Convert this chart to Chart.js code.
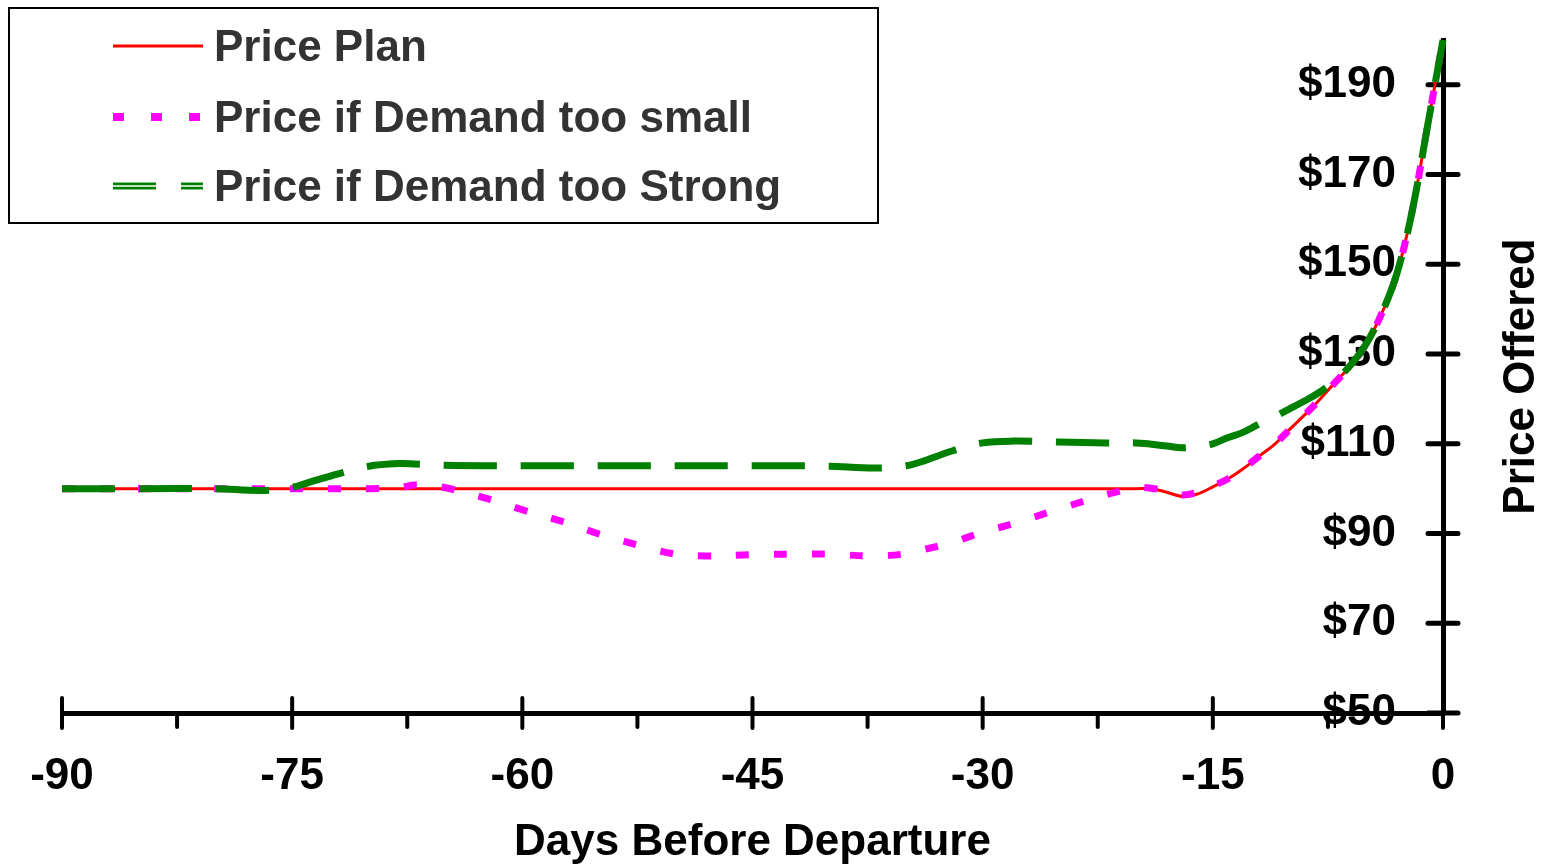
<!DOCTYPE html>
<html>
<head>
<meta charset="utf-8">
<script src="https://cdn.jsdelivr.net/npm/chart.js@4.4.1/dist/chart.umd.min.js"></script>
<style>
  html, body { margin: 0; padding: 0; background: #ffffff; }
  #wrap { width: 1549px; height: 864px; }
</style>
</head>
<body>
<div id="wrap"><canvas id="c" width="1549" height="864"></canvas></div>
<script>
// Days before departure at which each price is given
const days = [-90, -85, -80, -77, -75, -74, -72, -70, -68, -67, -65, -62, -60, -57, -55, -52, -50, -48, -45, -42,
              -40, -37, -35, -34, -32, -30, -28, -25, -22, -20, -19, -18, -17, -16, -15, -14, -13, -12, -11, -10,
              -9, -8, -7, -6, -5, -4, -3, -2, -1, 0];

// Planned fare
const planPrice = [100, 100, 100, 100, 100, 100, 100, 100, 100, 100, 100, 100, 100, 100, 100, 100, 100, 100, 100, 100,
                   100, 100, 100, 100, 100, 100, 100, 100, 100, 100, 100, 99.2, 98.3, 98.8, 100.4, 102.2, 104.5, 107.2, 109.8, 113.2,
                   116.5, 120, 123.8, 127.5, 132.3, 139, 148, 162, 181, 200];

// Fare when bookings come in below plan
const lowDemandPrice = [100, 100, 100, 100, 100, 100, 100, 100, 100.2, 100.8, 100.2, 97.5, 95.3, 92.3, 89.9, 87, 85.4, 85, 85.3, 85.4,
                        85.4, 85, 85.5, 86.3, 88, 90.3, 92.2, 95.5, 98.6, 100.2, 100.1, 99.4, 98.6, 99.2, 100.6, 102.2, 104.5, 107.2, 109.8, 113.2,
                        116.5, 120, 123.8, 127.5, 132.3, 139, 148, 162, 181, 200];

// Fare when bookings come in above plan
const strongDemandPrice = [100, 100, 100, 99.6, 100.3, 101.3, 103.3, 105, 105.6, 105.5, 105.2, 105.1, 105.1, 105.1, 105.1, 105.1, 105.1, 105.1, 105.1, 105.1,
                           105, 104.6, 105.1, 106, 108.4, 110.2, 110.6, 110.4, 110.2, 110.2, 109.9, 109.5, 109.1, 109.4, 110, 111.4, 112.6, 114.4, 116, 117.8,
                           119.6, 121.6, 124.2, 127.6, 132.3, 139, 148, 162, 181, 200];

const seriesLabels = ['Price Plan', 'Price if Demand too small', 'Price if Demand too Strong'];
const xTickValues = [-90, -75, -60, -45, -30, -15, 0];
const xMinorTickValues = [-82.5, -67.5, -52.5, -37.5, -22.5, -7.5];
const yTickValues = [50, 70, 90, 110, 130, 150, 170, 190];
const xTitle = 'Days Before Departure';
const yTitle = 'Price Offered';

const FONT = "'Liberation Sans', Arial, Helvetica, sans-serif";
const bigBold = { family: FONT, size: 44, weight: 'bold' };

const toPoints = vals => days.map((d, i) => ({ x: d, y: vals[i] }));

// Keep the plot area fixed: no extra room reserved for overhanging tick labels
const zeroLabelPadding = s => {
  s.paddingLeft = 0; s.paddingRight = 0; s.paddingTop = 0; s.paddingBottom = 0;
};

// Axis tick marks that cross the axis lines, plus the minor day ticks
const crossTicks = {
  id: 'crossTicks',
  beforeDatasetsDraw(chart) {
    const { ctx, scales: { x, y } } = chart;
    const axisY = y.getPixelForValue(50);
    const axisX = x.getPixelForValue(0);
    ctx.save();
    ctx.strokeStyle = '#000';
    ctx.lineCap = 'round';
    ctx.lineWidth = 4;
    xTickValues.forEach(v => {
      const px = x.getPixelForValue(v);
      ctx.beginPath(); ctx.moveTo(px, axisY - 15); ctx.lineTo(px, axisY + 15); ctx.stroke();
    });
    xMinorTickValues.forEach(v => {
      const px = x.getPixelForValue(v);
      ctx.beginPath(); ctx.moveTo(px, axisY); ctx.lineTo(px, axisY + 14); ctx.stroke();
    });
    ctx.lineWidth = 5;
    yTickValues.forEach(v => {
      const py = y.getPixelForValue(v);
      ctx.beginPath(); ctx.moveTo(axisX - 15, py); ctx.lineTo(axisX + 15, py); ctx.stroke();
    });
    ctx.restore();
  }
};

// Boxed legend in the upper left and the rotated price axis title
const legendBox = {
  id: 'legendBox',
  afterDraw(chart) {
    const { ctx, scales: { y } } = chart;
    ctx.save();
    ctx.fillStyle = '#fff';
    ctx.fillRect(9, 8, 869, 215);
    ctx.strokeStyle = '#000';
    ctx.lineWidth = 2;
    ctx.strokeRect(9, 8, 869, 215);

    const rows = [46, 117, 186];
    const x0 = 113, x1 = 203;
    chart.data.datasets.forEach((ds, i) => {
      const ry = rows[i];
      ctx.save();
      ctx.beginPath();
      ctx.moveTo(x0, ry); ctx.lineTo(x1, ry);
      ctx.strokeStyle = ds.borderColor;
      ctx.lineWidth = i === 0 ? 3 : (i === 1 ? 8 : 7);
      ctx.lineCap = 'butt';
      ctx.setLineDash(i === 0 ? [] : (i === 1 ? [11, 27] : [43, 25]));
      ctx.stroke();
      if (i === 2) {
        ctx.strokeStyle = '#fff';
        ctx.lineWidth = 1.5;
        ctx.stroke();
      }
      ctx.restore();
      ctx.fillStyle = '#333';
      ctx.font = `bold 44px ${FONT}`;
      ctx.textAlign = 'left';
      ctx.textBaseline = 'middle';
      ctx.fillText(ds.label, 214, ry + 3);
    });

    ctx.fillStyle = '#000';
    ctx.font = `bold 44px ${FONT}`;
    ctx.textAlign = 'center';
    ctx.textBaseline = 'middle';
    ctx.translate(1522, (y.top + y.bottom) / 2);
    ctx.rotate(-Math.PI / 2);
    ctx.fillText(yTitle, 0, 0);
    ctx.restore();
  }
};

new Chart(document.getElementById('c'), {
  type: 'line',
  data: {
    datasets: [
      {
        label: seriesLabels[0],
        data: toPoints(planPrice),
        borderColor: '#ff0000',
        borderWidth: 3,
        order: 2
      },
      {
        label: seriesLabels[1],
        data: toPoints(lowDemandPrice),
        borderColor: '#ff00ff',
        borderWidth: 7,
        borderDash: [13, 25],
        borderCapStyle: 'butt',
        order: 1
      },
      {
        label: seriesLabels[2],
        data: toPoints(strongDemandPrice),
        borderColor: '#008000',
        borderWidth: 7,
        borderDash: [53, 24],
        borderCapStyle: 'butt',
        order: 0
      }
    ]
  },
  options: {
    responsive: false,
    devicePixelRatio: 1,
    animation: false,
    layout: { padding: { left: 62, top: 40, right: 0, bottom: 0 } },
    elements: {
      point: { radius: 0, hoverRadius: 0 },
      line: { tension: 0.35, fill: false, borderJoinStyle: 'round' }
    },
    datasets: { line: { clip: 12 } },
    plugins: {
      legend: { display: false },
      tooltip: { enabled: false }
    },
    scales: {
      x: {
        type: 'linear',
        position: 'bottom',
        min: -90,
        max: 0,
        afterBuildTicks: s => { s.ticks = xTickValues.map(v => ({ value: v })); },
        afterFit: s => { s.height = 151; zeroLabelPadding(s); },
        grid: { display: false, drawTicks: false },
        border: { display: true, color: '#000', width: 5 },
        ticks: {
          color: '#000', font: bigBold, padding: 37, maxRotation: 0, autoSkip: false,
          callback: v => String(v)
        },
        title: { display: true, text: xTitle, color: '#000', font: bigBold, padding: { top: 0, bottom: -5 } }
      },
      y: {
        type: 'linear',
        position: 'right',
        min: 50,
        max: 200,
        afterBuildTicks: s => { s.ticks = yTickValues.map(v => ({ value: v })); },
        afterFit: s => { s.width = 106; zeroLabelPadding(s); },
        grid: { display: false, drawTicks: false },
        border: { display: true, color: '#000', width: 5 },
        ticks: {
          mirror: true, padding: -47, color: '#000', font: bigBold,
          callback: v => '$' + v
        }
      }
    }
  },
  plugins: [crossTicks, legendBox]
});
</script>
</body>
</html>
